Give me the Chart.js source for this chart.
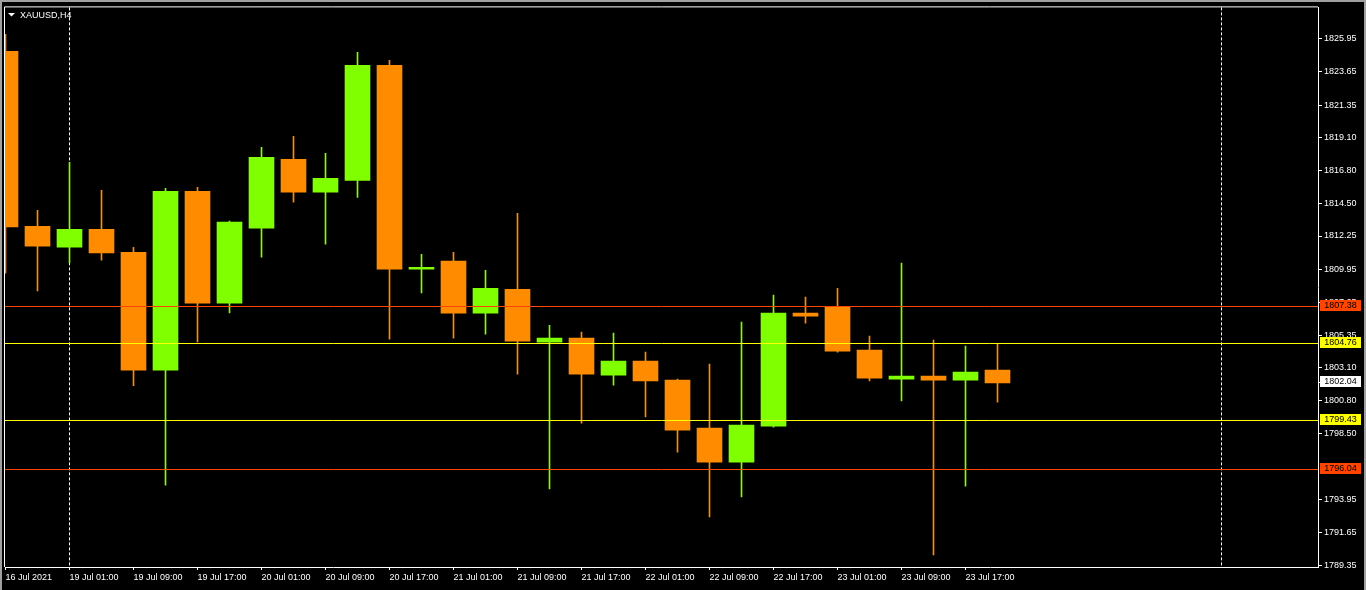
<!DOCTYPE html>
<html>
<head>
<meta charset="utf-8">
<title>XAUUSD,H4</title>
<script src="https://cdn.jsdelivr.net/npm/chart.js"></script>
<style>
  html, body { margin: 0; padding: 0; background: #000; overflow: hidden; }
  canvas { display: block; }
</style>
</head>
<body>
<canvas id="myChart" width="1366" height="590"></canvas>
<script>
// H4 bars, 16 Jul 16:00 .. 23 Jul 21:00
const barTimes = [
    '16 Jul 16:00', '16 Jul 20:00',
    '19 Jul 01:00', '19 Jul 05:00', '19 Jul 09:00', '19 Jul 13:00', '19 Jul 17:00', '19 Jul 21:00',
    '20 Jul 01:00', '20 Jul 05:00', '20 Jul 09:00', '20 Jul 13:00', '20 Jul 17:00', '20 Jul 21:00',
    '21 Jul 01:00', '21 Jul 05:00', '21 Jul 09:00', '21 Jul 13:00', '21 Jul 17:00', '21 Jul 21:00',
    '22 Jul 01:00', '22 Jul 05:00', '22 Jul 09:00', '22 Jul 13:00', '22 Jul 17:00', '22 Jul 21:00',
    '23 Jul 01:00', '23 Jul 05:00', '23 Jul 09:00', '23 Jul 13:00', '23 Jul 17:00', '23 Jul 21:00'
];

const opens = [
    1825.08, 1812.93, 1811.47, 1812.72, 1811.12, 1802.93, 1815.36, 1807.58,
    1812.79, 1817.58, 1815.29, 1816.12, 1824.11, 1809.94, 1810.50, 1806.89,
    1808.55, 1804.87, 1805.15, 1802.58, 1803.55, 1802.23, 1798.90, 1796.54,
    1799.04, 1806.89, 1807.30, 1804.32, 1802.30, 1802.51, 1802.23, 1802.93
];
const highs = [
    1826.26, 1814.04, 1817.37, 1815.43, 1811.47, 1815.57, 1815.64, 1813.28,
    1818.42, 1819.18, 1818.00, 1825.01, 1824.46, 1810.98, 1811.12, 1809.87,
    1813.83, 1806.05, 1805.57, 1805.50, 1804.18, 1802.30, 1803.35, 1806.26,
    1808.14, 1808.00, 1808.62, 1805.29, 1810.36, 1805.01, 1804.60, 1804.73
];
const lows = [
    1809.67, 1808.44, 1810.38, 1810.57, 1801.84, 1794.94, 1804.89, 1806.91,
    1810.78, 1814.60, 1811.68, 1814.94, 1805.08, 1808.30, 1805.15, 1805.43,
    1802.65, 1794.67, 1799.25, 1801.89, 1799.67, 1797.23, 1792.72, 1794.11,
    1798.97, 1806.19, 1804.18, 1802.17, 1800.78, 1790.08, 1794.87, 1800.71
];
const closes = [
    1812.88, 1811.54, 1812.72, 1811.07, 1802.93, 1815.36, 1807.58, 1813.21,
    1817.72, 1815.29, 1816.26, 1824.11, 1809.94, 1810.08, 1806.89, 1808.62,
    1804.94, 1805.15, 1802.65, 1803.55, 1802.17, 1798.76, 1796.54, 1799.11,
    1806.89, 1806.68, 1804.25, 1802.37, 1802.51, 1802.23, 1802.79, 1802.04
];

const timeTickIndex = [0, 2, 4, 6, 8, 10, 12, 14, 16, 18, 20, 22, 24, 26, 28, 30];
const timeTickLabels = [
    '16 Jul 2021', '19 Jul 01:00', '19 Jul 09:00', '19 Jul 17:00', '20 Jul 01:00',
    '20 Jul 09:00', '20 Jul 17:00', '21 Jul 01:00', '21 Jul 09:00', '21 Jul 17:00',
    '22 Jul 01:00', '22 Jul 09:00', '22 Jul 17:00', '23 Jul 01:00', '23 Jul 09:00', '23 Jul 17:00'
];

const priceTicks = [
    1825.95, 1823.65, 1821.35, 1819.10, 1816.80, 1814.50, 1812.25, 1809.95, 1807.65,
    1805.35, 1803.10, 1800.80, 1798.50, 1793.95, 1791.65, 1789.35
];

const levelPrices = [1807.38, 1804.76, 1799.43, 1796.04];
const levelColors = ['#ff4500', '#ffff00', '#ffff00', '#ff4500'];
const bidPrice = 1802.04;

const separators = [2, 38];

const symbolTitle = 'XAUUSD,H4';

const bullColor = '#7fff00';
const bearColor = '#ff8c00';

// visible window
const xMin = -0.015625;
const xMax = 41.015625;
const yMin = 1789.246;
const yMax = 1828.138;

const fontFamily = "'Liberation Sans', Arial, sans-serif";

const candleColors = opens.map((o, i) => closes[i] > o ? bullColor : bearColor);

const bodyData = opens.map((o, i) => ({ x: i, y: [o, closes[i]] }));
const wickData = lows.map((l, i) => ({ x: i, y: [l, highs[i]] }));

const mtDecor = {
    id: 'mtDecor',
    beforeDraw(chart) {
        const c = chart.ctx;
        c.save();
        c.fillStyle = '#000';
        c.fillRect(0, 0, chart.width, chart.height);
        c.restore();
    },
    beforeDatasetsDraw(chart) {
        const c = chart.ctx;
        const area = chart.chartArea;
        const xs = chart.scales.x;
        c.save();
        c.strokeStyle = '#ffffff';
        c.lineWidth = 1;
        c.setLineDash([3, 2]);
        separators.forEach(s => {
            const px = Math.floor(xs.getPixelForValue(s)) + 0.5;
            c.beginPath();
            c.moveTo(px, area.top);
            c.lineTo(px, area.bottom);
            c.stroke();
        });
        c.restore();
    },
    afterDatasetsDraw(chart) {
        // horizontal levels go over the candles
        const c = chart.ctx;
        const area = chart.chartArea;
        const ys = chart.scales.y;
        c.save();
        c.lineWidth = 1;
        levelPrices.forEach((p, i) => {
            const py = Math.floor(ys.getPixelForValue(p)) + 0.5;
            c.strokeStyle = levelColors[i];
            c.beginPath();
            c.moveTo(area.left, py);
            c.lineTo(area.right, py);
            c.stroke();
        });
        c.restore();
    },
    afterDraw(chart) {
        const c = chart.ctx;
        const area = chart.chartArea;
        const ys = chart.scales.y;
        c.save();

        // window frame
        c.fillStyle = '#a0a0a0';
        c.fillRect(0, 0, 2, chart.height);
        c.fillRect(chart.width - 2, 0, 2, chart.height);
        c.fillRect(0, 0, chart.width, 2);

        c.strokeStyle = '#ffffff';
        c.lineWidth = 1;
        c.beginPath();
        c.moveTo(area.left - 0.5, area.bottom);
        c.lineTo(area.left - 0.5, area.top - 0.5);
        c.lineTo(area.right, area.top - 0.5);
        c.stroke();

        // title
        c.fillStyle = '#ffffff';
        c.beginPath();
        c.moveTo(8, 13);
        c.lineTo(15, 13);
        c.lineTo(11.5, 16.5);
        c.closePath();
        c.fill();
        c.font = '9px ' + fontFamily;
        c.textAlign = 'left';
        c.textBaseline = 'alphabetic';
        c.fillText(symbolTitle, 20, 18);

        // price labels on the axis
        const drawBox = (price, bg) => {
            const py = Math.floor(ys.getPixelForValue(price));
            c.fillStyle = bg;
            c.fillRect(1320, py - 6, 41, 11);
            c.fillStyle = '#000000';
            c.textAlign = 'center';
            c.textBaseline = 'middle';
            c.fillText(price.toFixed(2), 1340.5, py);
        };
        levelPrices.forEach((p, i) => drawBox(p, levelColors[i]));

        const bidY = Math.floor(ys.getPixelForValue(bidPrice));
        c.fillStyle = '#ffffff';
        c.fillRect(area.right, bidY, 2, 1);
        drawBox(bidPrice, '#ffffff');

        c.restore();
    }
};

const ctx = document.getElementById('myChart');

const myChart = new Chart(ctx, {
    type: 'bar',
    data: {
        datasets: [
            {
                label: 'wicks',
                data: wickData,
                backgroundColor: candleColors,
                borderWidth: 0,
                barThickness: 1,
                grouped: false,
                order: 2
            },
            {
                label: 'bodies',
                data: bodyData,
                backgroundColor: candleColors,
                borderWidth: 0,
                barThickness: 25,
                grouped: false,
                order: 1
            }
        ]
    },
    plugins: [mtDecor],
    options: {
        responsive: false,
        animation: false,
        devicePixelRatio: 1,
        layout: {
            padding: { left: 5, top: 7, right: 0, bottom: 0 }
        },
        plugins: {
            legend: { display: false },
            tooltip: { enabled: false },
            title: { display: false }
        },
        scales: {
            x: {
                type: 'linear',
                min: xMin,
                max: xMax,
                offset: false,
                grid: {
                    offset: false,
                    drawOnChartArea: false,
                    drawTicks: true,
                    tickLength: 3,
                    color: '#ffffff'
                },
                border: { display: true, color: '#ffffff', width: 1 },
                ticks: {
                    autoSkip: false,
                    maxRotation: 0,
                    minRotation: 0,
                    align: 'start',
                    padding: 2,
                    color: '#ffffff',
                    font: { family: fontFamily, size: 9 },
                    callback: function (value) {
                        const k = timeTickIndex.indexOf(value);
                        return k >= 0 ? timeTickLabels[k] : '';
                    }
                },
                afterBuildTicks: function (axis) {
                    axis.ticks = timeTickIndex.map(v => ({ value: v }));
                },
                afterFit: function (axis) {
                    axis.height = 23;
                }
            },
            y: {
                type: 'linear',
                position: 'right',
                min: yMin,
                max: yMax,
                grid: {
                    drawOnChartArea: false,
                    drawTicks: true,
                    tickLength: 4,
                    color: '#ffffff'
                },
                border: { display: true, color: '#ffffff', width: 1 },
                ticks: {
                    padding: 2,
                    color: '#ffffff',
                    font: { family: fontFamily, size: 9 },
                    callback: function (value) {
                        return Number(value).toFixed(2);
                    }
                },
                afterBuildTicks: function (axis) {
                    axis.ticks = priceTicks.map(v => ({ value: v }));
                },
                afterFit: function (axis) {
                    axis.width = 48;
                }
            }
        }
    }
});
</script>
</body>
</html>
